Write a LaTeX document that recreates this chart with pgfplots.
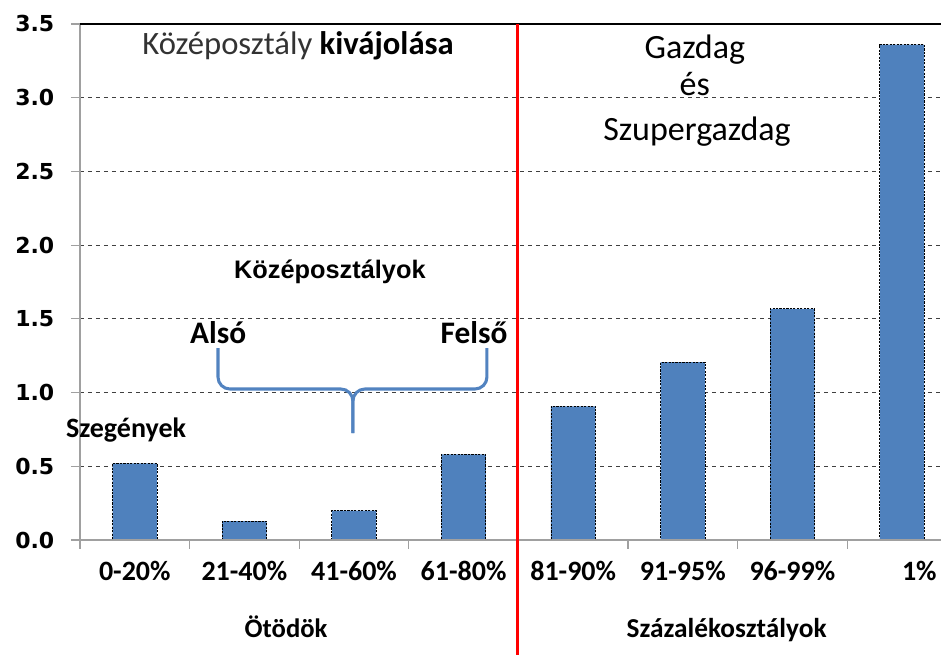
\documentclass[border=0pt]{standalone}
\usepackage{fontspec}
\setmainfont{Carlito}
\newfontfamily\dejavu{DejaVu Sans}
\newfontfamily\arial{Liberation Sans}
\usepackage{pgfplots}
\pgfplotsset{compat=1.18}
\definecolor{barblue}{HTML}{4F81BD}
\definecolor{braceblue}{HTML}{5283C0}
\definecolor{axgray}{HTML}{A0A0A0}
\begin{document}
\begin{tikzpicture}
\begin{axis}[
  at={(0,0)}, anchor=south west,
  scale only axis,
  width=645.75pt, height=387pt,
  xmin=-0.5, xmax=7.356,
  ymin=0, ymax=3.5,
  clip=false,
  axis x line*=bottom,
  axis y line*=left,
  axis line style={axgray, line width=0.8pt},
  xtick={0,1,2,3,4,5,6,7},
  xticklabels={0-20\%,21-40\%,41-60\%,61-80\%,81-90\%,91-95\%,96-99\%,\hspace*{26pt}1\%},
  major x tick style={draw=none},
  minor xtick={-0.5,0.5,1.5,2.5,3.5,4.5,5.5,6.5},
  minor x tick style={axgray, line width=0.8pt},
  minor tick length=6.75pt,
  ytick={0,0.5,1,1.5,2,2.5,3,3.5},
  yticklabels={0.0,0.5,1.0,1.5,2.0,2.5,3.0,3.5},
  major y tick style={axgray, line width=0.8pt},
  major tick length=6.75pt,
  tick align=outside,
  xticklabel style={font=\bfseries\fontsize{21}{21}\selectfont, anchor=base, yshift=-24pt},
  yticklabel style={font=\dejavu\bfseries\fontsize{16.5}{16.5}\selectfont, anchor=east, xshift=-9pt},
  ymajorgrids,
  grid style={black!75, dashed, line width=0.6pt},
]
\addplot[ybar, bar width=0.405, fill=barblue, draw=black, dash pattern=on 1.6pt off 1pt, line width=0.6pt]
  coordinates {(0,0.52) (1,0.128) (2,0.20) (3,0.58) (4,0.907) (5,1.206) (6,1.568) (7,3.36)};
% top line
\draw[black, line width=0.9pt] (axis cs:-0.5,3.5) -- (axis cs:7.356,3.5);
\draw[axgray, line width=0.8pt] (axis cs:-0.5,0) -- (axis cs:7.356,0);
% red separator
\draw[red, line width=2.4pt] (axis cs:3.49,3.5) -- (axis cs:3.49,-0.85);
% brace
\draw[braceblue, line width=2.3pt, rounded corners=9pt] (axis cs:0.759,1.302) -- (axis cs:0.759,1.024) -- (axis cs:1.99,1.024) -- (axis cs:1.99,0.725);
\draw[braceblue, line width=2.3pt, rounded corners=9pt] (axis cs:3.213,1.302) -- (axis cs:3.213,1.024) -- (axis cs:1.99,1.024) -- (axis cs:1.99,0.725);
% annotations
\node[anchor=base, inner sep=0pt] at (axis cs:1.49,3.295) {\fontsize{24.5}{24.5}\selectfont\textcolor{black!80}{Középosztály} \textbf{kivájolása}};
\node[anchor=base, inner sep=0pt] at (axis cs:5.11,3.268) {\fontsize{25.5}{25.5}\selectfont Gazdag};
\node[anchor=base, inner sep=0pt] at (axis cs:5.11,3.017) {\fontsize{25.5}{25.5}\selectfont és};
\node[anchor=base, inner sep=0pt] at (axis cs:5.13,2.712) {\fontsize{25.5}{25.5}\selectfont Szupergazdag};
\node[anchor=base, inner sep=0pt] at (axis cs:1.78,1.776) {\arial\bfseries\fontsize{19}{19}\selectfont Középosztályok};
\node[anchor=base, inner sep=0pt] at (axis cs:0.76,1.336) {\bfseries\fontsize{23.5}{23.5}\selectfont Alsó};
\node[anchor=base, inner sep=0pt] at (axis cs:3.095,1.336) {\bfseries\fontsize{23.5}{23.5}\selectfont Felső};
\node[anchor=base, inner sep=0pt] at (axis cs:-0.08,0.698) {\bfseries\fontsize{21}{21}\selectfont Szegények};
\node[anchor=base, inner sep=0pt] at (axis cs:1.38,-0.658) {\bfseries\fontsize{20}{20}\selectfont Ötödök};
\node[anchor=base, inner sep=0pt] at (axis cs:5.40,-0.658) {\bfseries\fontsize{20.5}{20.5}\selectfont Százalékosztályok};
\end{axis}
\pgfresetboundingbox
\path[use as bounding box] (-60pt,-86.25pt) rectangle (645.75pt,405pt);
\end{tikzpicture}
\end{document}
